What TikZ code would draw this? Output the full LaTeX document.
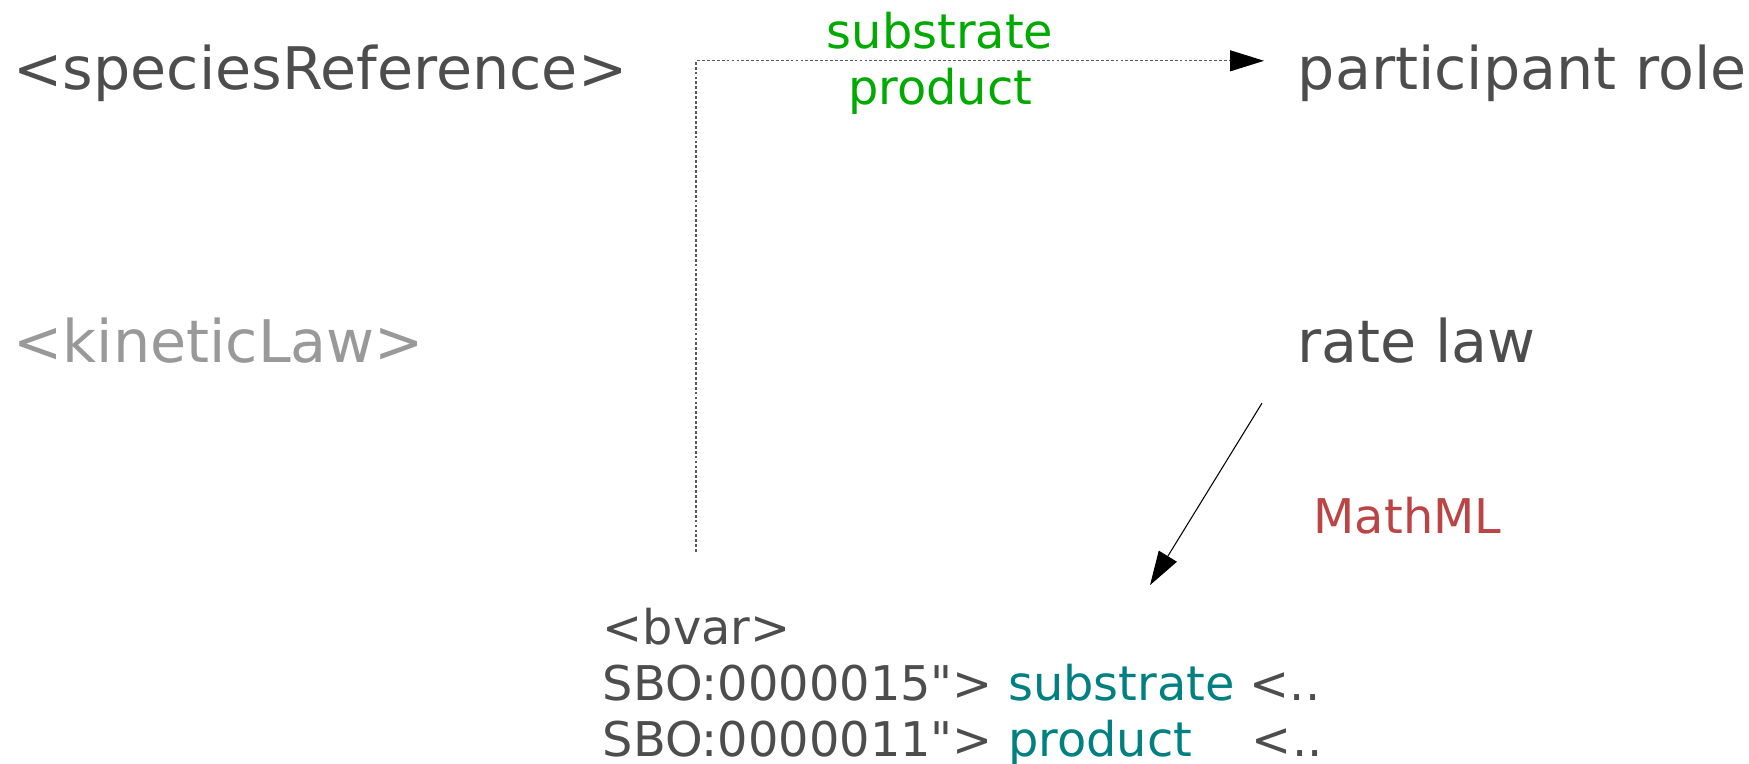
\documentclass[tikz,border=0pt]{standalone}
\usepackage{fontspec}
\setmainfont{DejaVu Sans}
\usetikzlibrary{arrows.meta, calc}

\definecolor{textgray}{HTML}{4D4D4D}
\definecolor{fadegray}{HTML}{999999}
\definecolor{rolegreen}{HTML}{00AA00}
\definecolor{mathred}{HTML}{BB4444}
\definecolor{sboteal}{HTML}{008080}

\begin{document}
\begin{tikzpicture}[
    x=0.01cm, y=-0.01cm,
    tag/.style={anchor=base west, inner sep=0pt, text=textgray, font=\fontsize{16.7pt}{19pt}\selectfont},
    small/.style={inner sep=0pt, font=\fontsize{13.6pt}{15.9pt}\selectfont},
    arrow/.style={-{Triangle[length=0.34cm, width=0.21cm, color=black]}, line width=0.3pt},
    hint/.style={arrow, draw=black!65, dash pattern=on 0.8pt off 0.6pt}
]
\useasboundingbox (0, 0) rectangle (1749, 763);

\node[tag] (sref) at (13, 89) {<speciesReference>};
\node[tag] (role) at (1297, 89) {participant role};
\node[tag, text=fadegray] (klaw) at (13, 362) {<kineticLaw>};
\node[tag] (rate) at (1297, 362) {rate law};

% multi-line nodes sit on the baseline of their last line
\node[small, anchor=base, align=center, text=rolegreen] (roles) at (940, 104) {substrate\\product};
\node[small, anchor=base west, text=mathred] (mml) at (1313, 533) {MathML};

\node[small, anchor=base west, align=left, text=textgray] (bvar) at (602, 756)
    {<bvar>\\
     SBO:0000015\textquotedbl> \textcolor{sboteal}{substrate} <..\\
     SBO:0000011\textquotedbl> \textcolor{sboteal}{\rlap{product}\phantom{substrate}} \hspace{0.6pt}<..};

% Edges
\coordinate (foot) at (696, 552);
\draw[hint] (foot) |- ($(role.west)+(-33,-12)$);
\draw[arrow] ($(rate.west)+(-35,63)$) -- ($(bvar.north west)+(548,-22)$);

\end{tikzpicture}
\end{document}
